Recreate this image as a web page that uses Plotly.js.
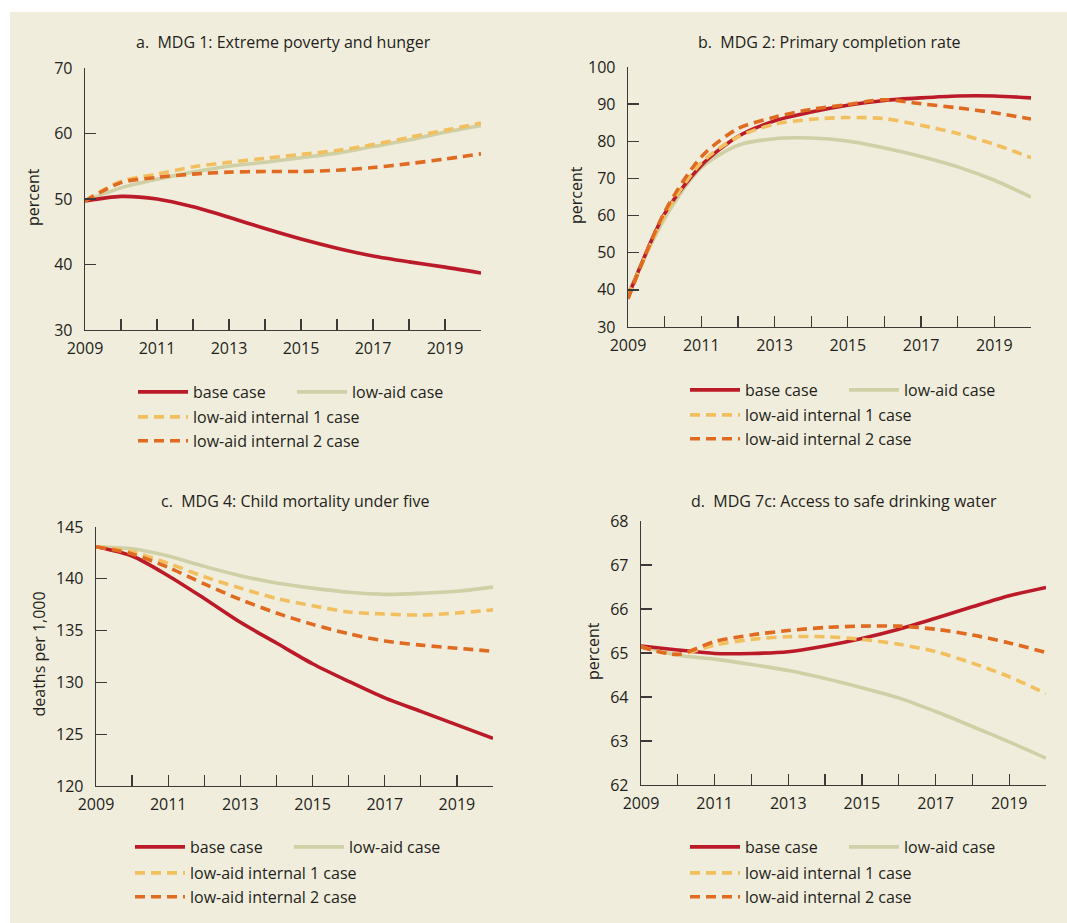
<!DOCTYPE html>
<html>
<head>
<meta charset="utf-8">
<script src="https://cdn.plot.ly/plotly-3.0.1.min.js"></script>
<style>html,body{margin:0;padding:0;background:#fff;}#chart{width:1067px;height:923px;}</style>
</head>
<body>
<div id="chart"></div>
<script>
// ---- data ----
const years = [2009, 2010, 2011, 2012, 2013, 2014, 2015, 2016, 2017, 2018, 2019, 2020];
const xTickVals = [2009, 2010, 2011, 2012, 2013, 2014, 2015, 2016, 2017, 2018, 2019, 2020];
const xTickText = ["2009", "", "2011", "", "2013", "", "2015", "", "2017", "", "2019", ""];

const seriesNames = ["base case", "low-aid case", "low-aid internal 1 case", "low-aid internal 2 case"];

// a. MDG 1: Extreme poverty and hunger (percent)
const mdg1Base = [49.7, 50.4, 50.0, 48.8, 47.2, 45.5, 43.9, 42.5, 41.3, 40.4, 39.6, 38.7];
const mdg1LowAid = [49.7, 51.7, 53.0, 54.1, 55.0, 55.6, 56.3, 57.0, 58.0, 59.0, 60.2, 61.2];
const mdg1Internal1 = [49.7, 52.7, 53.8, 54.9, 55.6, 56.2, 56.8, 57.4, 58.3, 59.4, 60.5, 61.6];
const mdg1Internal2 = [49.7, 52.5, 53.3, 53.8, 54.1, 54.2, 54.2, 54.4, 54.8, 55.4, 56.1, 56.9];

// b. MDG 2: Primary completion rate (percent)
const mdg2Base = [38.1, 60.5, 73.5, 81.3, 85.5, 87.9, 89.7, 91.0, 91.7, 92.2, 92.2, 91.7];
const mdg2LowAid = [39.0, 59.2, 72.9, 78.9, 80.7, 80.9, 80.1, 78.2, 75.9, 73.1, 69.5, 65.0];
const mdg2Internal1 = [38.1, 60.1, 74.2, 81.2, 84.6, 85.9, 86.4, 86.1, 84.3, 82.1, 79.2, 75.6];
const mdg2Internal2 = [37.6, 61.0, 75.8, 83.4, 86.5, 88.6, 89.9, 91.2, 90.1, 89.0, 87.7, 86.0];

// c. MDG 4: Child mortality under five (deaths per 1,000)
const mdg4Base = [143.1, 142.2, 140.3, 138.1, 135.8, 133.8, 131.8, 130.1, 128.5, 127.2, 125.9, 124.6];
const mdg4LowAid = [143.1, 142.9, 142.2, 141.2, 140.3, 139.6, 139.1, 138.7, 138.5, 138.6, 138.8, 139.2];
const mdg4Internal1 = [143.1, 142.6, 141.5, 140.2, 139.1, 138.1, 137.4, 136.8, 136.6, 136.5, 136.7, 137.0];
const mdg4Internal2 = [143.1, 142.4, 141.1, 139.5, 138.0, 136.7, 135.6, 134.7, 134.0, 133.6, 133.3, 133.0];

// d. MDG 7c: Access to safe drinking water (percent)
const mdg7Base = [65.16, 65.07, 64.99, 64.99, 65.03, 65.16, 65.33, 65.54, 65.79, 66.05, 66.30, 66.49];
const mdg7LowAid = [65.16, 64.95, 64.86, 64.74, 64.60, 64.42, 64.21, 63.98, 63.67, 63.33, 62.98, 62.61];
const mdg7Internal1 = [65.14, 64.97, 65.18, 65.31, 65.37, 65.37, 65.31, 65.20, 65.03, 64.77, 64.46, 64.08];
const mdg7Internal2 = [65.14, 64.97, 65.26, 65.41, 65.51, 65.58, 65.61, 65.61, 65.54, 65.41, 65.23, 65.01];

const panelTitles = [
  "a.\u00a0\u00a0MDG 1: Extreme poverty and hunger",
  "b.\u00a0\u00a0MDG 2: Primary completion rate",
  "c.\u00a0\u00a0MDG 4: Child mortality under five",
  "d.\u00a0\u00a0MDG 7c: Access to safe drinking water"
];
const yTitles = ["percent", "percent", "deaths per 1,000", "percent"];
const yRanges = [[30, 70], [30, 100], [120, 145], [62, 68]];
const yDticks = [10, 10, 5, 1];

// ---- style ----
const W = 1067, H = 923;
const px = v => v / W;
const py = v => 1 - v / H;
const FONT = "'Open Sans', Lato, sans-serif";
const FS = 16;
const TXT = "#231f20";
const AXC = "#3c3a38";
const colors = {base: "#bb1a28", low: "#cfd0a6", int1: "#f2bf5e", int2: "#e06a20"};

// panel geometry (pixels)
const panels = [
  {x0: 85, x1: 481, y0: 68, y1: 330, legY: 380, legB: 400, legX: 133, ytx: 33, tty: 42},
  {x0: 628, x1: 1031, y0: 67, y1: 327, legY: 378, legB: 398, legX: 685, ytx: 576, tty: 42},
  {x0: 96, x1: 493, y0: 527, y1: 786, legY: 835, legB: 856, legX: 130, ytx: 38, tty: 501},
  {x0: 641, x1: 1046, y0: 521, y1: 785, legY: 835, legB: 856, legX: 685, ytx: 593, tty: 501}
];

const data = [
  [mdg1Base, mdg1LowAid, mdg1Internal1, mdg1Internal2],
  [mdg2Base, mdg2LowAid, mdg2Internal1, mdg2Internal2],
  [mdg4Base, mdg4LowAid, mdg4Internal1, mdg4Internal2],
  [mdg7Base, mdg7LowAid, mdg7Internal1, mdg7Internal2]
];

const traces = [];
const layout = {
  width: W, height: H,
  margin: {l: 0, r: 0, t: 0, b: 0, autoexpand: false},
  paper_bgcolor: "#ffffff",
  plot_bgcolor: "rgba(0,0,0,0)",
  font: {family: FONT, size: FS, color: TXT},
  showlegend: true,
  shapes: [{type: "rect", xref: "paper", yref: "paper", x0: px(10), x1: 1, y0: 0, y1: py(12),
            fillcolor: "#f1eddc", line: {width: 0}, layer: "below"}],
  annotations: []
};

panels.forEach((p, i) => {
  const n = i + 1;
  const xa = n === 1 ? "x" : "x" + n;
  const ya = n === 1 ? "y" : "y" + n;
  const legA = n === 1 ? "legend" : "legend" + (2 * i + 1);
  const legB = "legend" + (2 * i + 2);
  const d = data[i];
  const common = {x: years, xaxis: xa, yaxis: ya, mode: "lines", hoverinfo: "skip"};
  const spline = {shape: "spline", smoothing: 0.8};
  traces.push(Object.assign({}, common, {y: d[1], name: seriesNames[1], legend: legA, legendrank: 2,
    line: Object.assign({color: colors.low, width: 3.6}, spline)}));
  traces.push(Object.assign({}, common, {y: d[0], name: seriesNames[0], legend: legA, legendrank: 1,
    line: Object.assign({color: colors.base, width: 3.6}, spline)}));
  traces.push(Object.assign({}, common, {y: d[2], name: seriesNames[2], legend: legB, legendrank: 1,
    line: Object.assign({color: colors.int1, width: 3.6, dash: "10px,6px"}, spline)}));
  traces.push(Object.assign({}, common, {y: d[3], name: seriesNames[3], legend: legB, legendrank: 2,
    line: Object.assign({color: colors.int2, width: 3.6, dash: "10px,6px"}, spline)}));

  const axKey = n === 1 ? "xaxis" : "xaxis" + n;
  const ayKey = n === 1 ? "yaxis" : "yaxis" + n;
  layout[axKey] = {
    domain: [px(p.x0), px(p.x1)], anchor: ya, range: [2009, 2020],
    tickmode: "array", tickvals: xTickVals, ticktext: xTickText,
    ticks: "inside", ticklen: 11, tickwidth: 1.3, tickcolor: AXC, ticklabelstandoff: 3,
    showline: true, linecolor: AXC, linewidth: 1.3, showgrid: false, zeroline: false,
    tickfont: {size: 16, color: TXT}, fixedrange: true
  };
  layout[ayKey] = {
    domain: [py(p.y1), py(p.y0)], anchor: xa, range: yRanges[i], dtick: yDticks[i], tick0: 0,
    ticks: "inside", ticklen: 11, tickwidth: 1.3, tickcolor: AXC, ticklabelstandoff: 8,
    showline: true, linecolor: AXC, linewidth: 1.3, showgrid: false, zeroline: false,
    tickfont: {size: 16, color: TXT}, fixedrange: true
  };
  layout[legA] = {
    orientation: "h", x: px(p.legX), y: py(p.legY - 5), xanchor: "left", yanchor: "top",
    entrywidth: 94, entrywidthmode: "pixels", itemwidth: 50, bgcolor: "rgba(0,0,0,0)",
    font: {size: FS, color: TXT}, itemclick: false, itemdoubleclick: false
  };
  layout[legB] = {
    orientation: "v", x: px(p.legX), y: py(p.legB), xanchor: "left", yanchor: "top", itemwidth: 50,
    bgcolor: "rgba(0,0,0,0)", font: {size: FS, color: TXT}, itemclick: false, itemdoubleclick: false
  };
  layout.annotations.push({
    text: panelTitles[i], xref: "paper", yref: "paper", x: px((p.x0 + p.x1) / 2), y: py(p.tty),
    xanchor: "center", yanchor: "middle", showarrow: false, font: {size: FS, color: TXT}
  });
  layout.annotations.push({
    text: yTitles[i], xref: "paper", yref: "paper", x: px(p.ytx), y: py((p.y0 + p.y1) / 2 - 2),
    xanchor: "center", yanchor: "middle", textangle: -90, showarrow: false, font: {size: FS, color: TXT}
  });
});

Plotly.newPlot("chart", traces, layout, {displayModeBar: false, staticPlot: true});
</script>
</body>
</html>
